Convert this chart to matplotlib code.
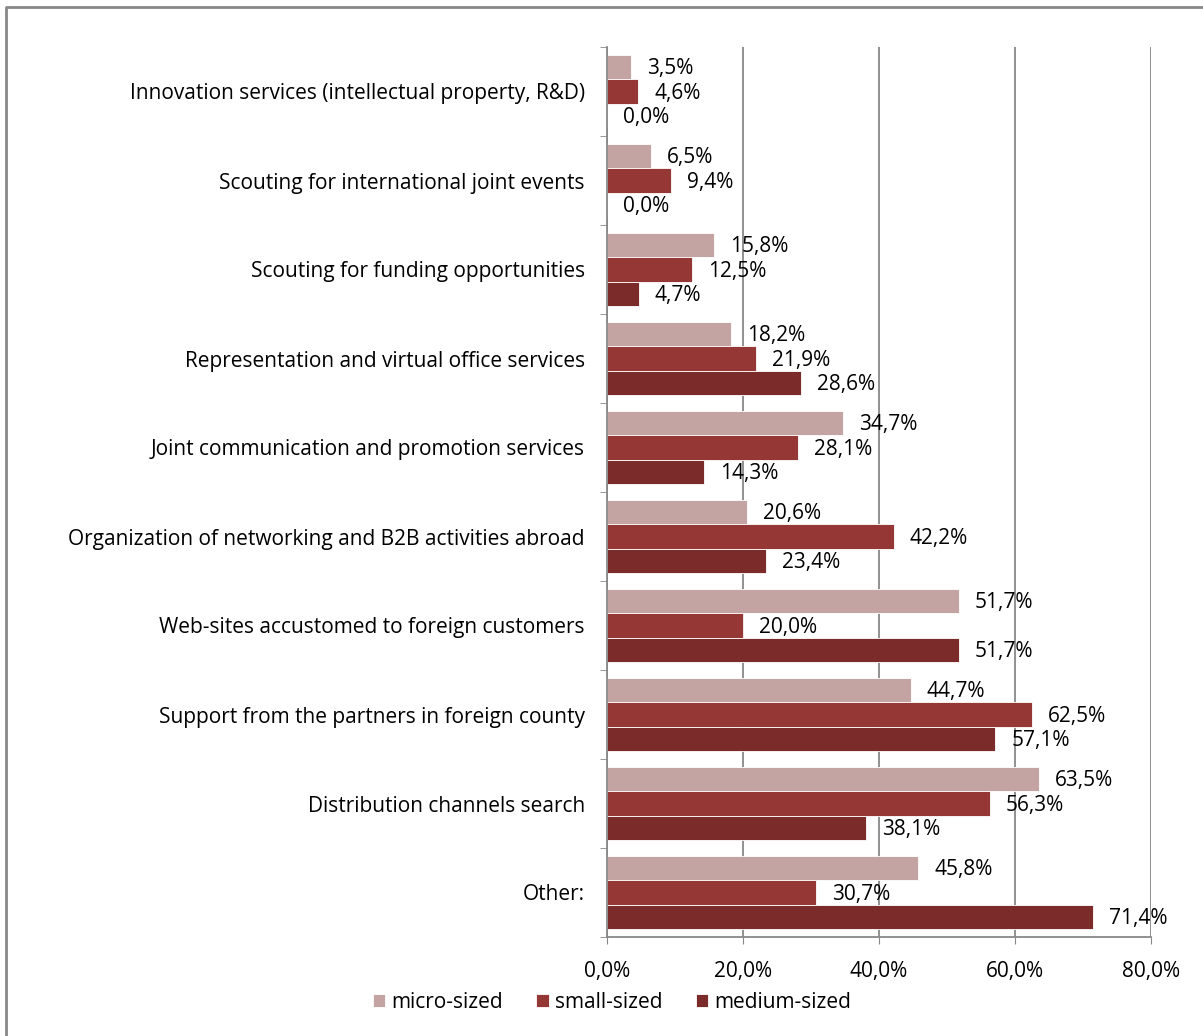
import numpy as np
import matplotlib.pyplot as plt
from matplotlib.lines import Line2D

plt.rcParams['font.family'] = ['Open Sans', 'DejaVu Sans']

categories = [
    'Innovation services (intellectual property, R&D)',
    'Scouting for international joint events',
    'Scouting for funding opportunities',
    'Representation and virtual office services',
    'Joint communication and promotion services',
    'Organization of networking and B2B activities abroad',
    'Web-sites accustomed to foreign customers',
    'Support from the partners in foreign county',
    'Distribution channels search',
    'Other:',
]
micro = [3.5, 6.5, 15.8, 18.2, 34.7, 20.6, 51.7, 44.7, 63.5, 45.8]
small = [4.6, 9.4, 12.5, 21.9, 28.1, 42.2, 20.0, 62.5, 56.3, 30.7]
medium = [0.0, 0.0, 4.7, 28.6, 14.3, 23.4, 51.7, 57.1, 38.1, 71.4]
series_names = ['micro-sized', 'small-sized', 'medium-sized']
colors = ['#C4A4A3', '#953735', '#7B2C2A']
xticks = [0, 20, 40, 60, 80]

W, H = 1203, 1036
fs = 15
fig = plt.figure(figsize=(W / 100, H / 100), dpi=100)
ax = fig.add_axes([607 / W, 1 - 937 / H, 544 / W, 890 / H])

y = np.arange(len(categories))
bh = 0.275
px_per_unit = 544 / 80
for i, (vals, name, c) in enumerate(zip([micro, small, medium], series_names, colors)):
    pos = y + (i - 1) * bh
    ax.barh(pos, vals, height=bh, color=c, label=name, edgecolor='white', linewidth=0.6)
    for p, v in zip(pos, vals):
        ax.text(v + 16 / px_per_unit, p + 0.02, f'{v:.1f}%'.replace('.', ','),
                va='center', ha='left', fontsize=fs, color='black')

ax.set_ylim(len(categories) - 0.5, -0.5)
ax.set_xlim(0, 80)
ax.set_yticks(y)
ax.set_yticklabels(categories, fontsize=fs)
ax.set_yticks(np.arange(-0.5, len(categories)), minor=True)
ax.tick_params(axis='y', which='major', length=0, pad=16)
ax.tick_params(axis='y', which='minor', length=5, color='#888888', direction='out')

ax.set_xticks(xticks)
ax.set_xticklabels([f'{t:.1f}%'.replace('.', ',') for t in xticks], fontsize=fs)
ax.tick_params(axis='x', length=5, color='#888888', pad=12)

ax.grid(axis='x', color='#888888', lw=1.3)
ax.set_axisbelow(True)
for s in ('top', 'right'):
    ax.spines[s].set_visible(False)
for s in ('left', 'bottom'):
    ax.spines[s].set_color('#888888')
    ax.spines[s].set_linewidth(1.3)

ax.legend(loc='center', bbox_to_anchor=(612 / W, 1 - 1002 / H), bbox_transform=fig.transFigure,
          ncol=3, frameon=False, fontsize=fs, handlelength=0.6, handleheight=0.6,
          handletextpad=0.3, columnspacing=1.6)

# outer border
fig.add_artist(Line2D([6 / W, 6 / W, 1], [0, 1 - 7 / H, 1 - 7 / H],
                      transform=fig.transFigure, color='#888888', lw=2))

fig.savefig('out.png', dpi=100)
